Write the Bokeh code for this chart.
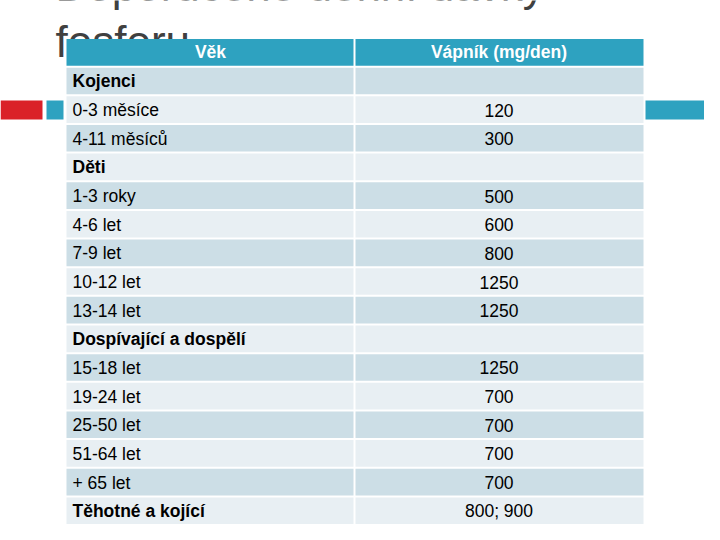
from bokeh.plotting import figure
from bokeh.models import ColumnDataSource, Range1d
from bokeh.core.properties import value
from bokeh.embed import file_html
from bokeh.resources import INLINE

# ---- data ----
title_lines = ["Doporučené denní dávky", "fosforu"]
header = ["Věk", "Vápník (mg/den)"]
ages = ["Kojenci", "0-3 měsíce", "4-11 měsíců", "Děti", "1-3 roky", "4-6 let",
        "7-9 let", "10-12 let", "13-14 let", "Dospívající a dospělí", "15-18 let",
        "19-24 let", "25-50 let", "51-64 let", "+ 65 let", "Těhotné a kojící"]
calcium = ["", "120", "300", "", "500", "600", "800", "1250", "1250", "",
           "1250", "700", "700", "700", "700", "800; 900"]
is_group = [True, False, False, True, False, False, False, False, False, True,
            False, False, False, False, False, True]

# ---- layout (picture-pixel coordinates) ----
W, H = 704, 524
TL, DIV, TR = 66, 354, 643
TOP, PITCH, GAP = 38.5, 28.65, 2.0
FONT = value("Liberation Sans")
FS = "17.5px"
HEAD_C = "#2EA2C0"
DARK, LIGHT = "#CCDEE6", "#E8EFF3"

p = figure(width=W, height=H, output_backend="svg", toolbar_location=None,
           x_range=Range1d(0, W), y_range=Range1d(H, 0),
           min_border=0, outline_line_color=None)
p.axis.visible = False
p.grid.visible = False
p.background_fill_color = "white"
p.border_fill_color = "white"

# title (drawn first, table covers part of it)
p.text(x=[55, 55], y=[-15, 41], text=title_lines, text_font=FONT,
       text_font_size="44px", text_color="#404040",
       text_baseline="alphabetic", text_align="left")

# decorations
p.quad(left=[0, 46, 645], right=[42, 63, 720], top=[100, 100, 100],
       bottom=[119, 119, 119], fill_color=["#DA2128", "#2EA2C0", "#2EA2C0"],
       line_color=None)

# header row
p.quad(left=[TL, DIV + 1], right=[DIV - 1, TR], top=[TOP, TOP],
       bottom=[TOP + PITCH - GAP] * 2, fill_color=HEAD_C, line_color=None)
hy = TOP + (PITCH - GAP) / 2
p.text(x=[(TL + DIV) / 2, (DIV + TR) / 2], y=[hy, hy], text=header,
       text_font=FONT, text_font_size=FS, text_font_style="bold",
       text_color="white", text_align="center", text_baseline="middle")

# body rows
n = len(ages)
tops = [TOP + (i + 1) * PITCH for i in range(n)]
bots = [t + PITCH - GAP for t in tops]
mids = [(t + b) / 2 + 0.5 for t, b in zip(tops, bots)]
cols = [DARK if i % 2 == 0 else LIGHT for i in range(n)]

src = ColumnDataSource(dict(top=tops, bottom=bots, mid=mids, color=cols,
                            age=ages, val=calcium))
p.quad(left=TL, right=DIV - 1, top="top", bottom="bottom", fill_color="color",
       line_color=None, source=src)
p.quad(left=DIV + 1, right=TR, top="top", bottom="bottom", fill_color="color",
       line_color=None, source=src)

g_src = ColumnDataSource(dict(y=[m for m, g in zip(mids, is_group) if g],
                              t=[a for a, g in zip(ages, is_group) if g]))
r_src = ColumnDataSource(dict(y=[m for m, g in zip(mids, is_group) if not g],
                              t=[a for a, g in zip(ages, is_group) if not g]))
p.text(x=72, y="y", text="t", source=g_src, text_font=FONT, text_font_size=FS,
       text_font_style="bold", text_color="black", text_baseline="middle")
p.text(x=72, y="y", text="t", source=r_src, text_font=FONT, text_font_size=FS,
       text_color="black", text_baseline="middle")
p.text(x=(DIV + TR) / 2, y="mid", text="val", source=src, text_font=FONT,
       text_font_size=FS, text_color="black", text_align="center",
       text_baseline="middle")

open("out.html", "w").write(file_html(p, INLINE))
